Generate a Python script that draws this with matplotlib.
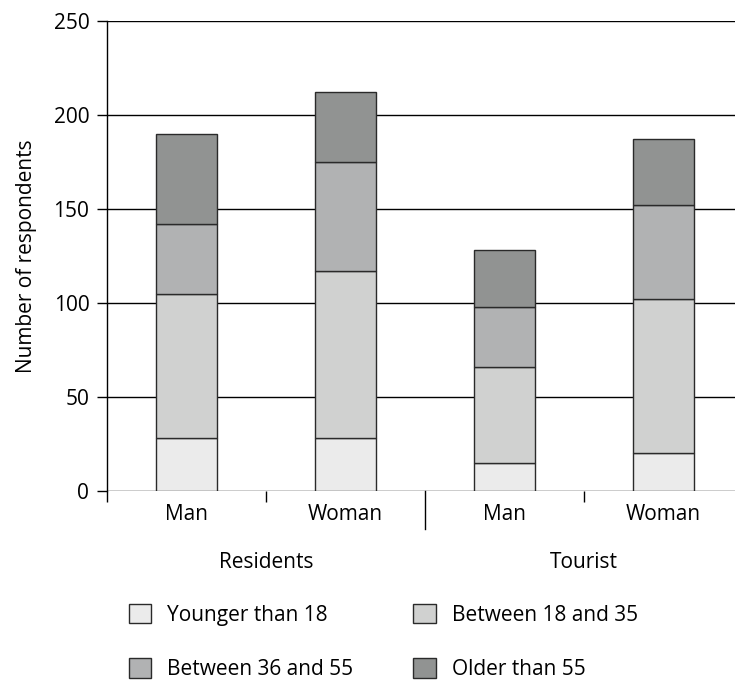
import matplotlib
matplotlib.use("Agg")
import matplotlib.pyplot as plt
from matplotlib.patches import Patch
import numpy as np

plt.rcParams['font.family'] = ['Open Sans', 'DejaVu Sans']

groups = ["Residents", "Tourist"]
categories = ["Man", "Woman", "Man", "Woman"]
series_names = ["Younger than 18", "Between 18 and 35", "Between 36 and 55", "Older than 55"]
younger_18 = [28, 28, 15, 20]
between_18_35 = [77, 89, 51, 82]
between_36_55 = [37, 58, 32, 50]
older_55 = [48, 37, 30, 35]
y_ticks = [0, 50, 100, 150, 200, 250]

series = [younger_18, between_18_35, between_36_55, older_55]
colors = ["#ebebeb", "#d0d1d0", "#b1b2b3", "#919392"]
edge = "#2a2a2a"
FS = 15

fig = plt.figure(figsize=(7.35, 6.81), dpi=100)
W, H = 735, 681
left, right, top, bottom = 107, 743, 21, 491
ax = fig.add_axes([left / W, 1 - bottom / H, (right - left) / W, (bottom - top) / H])

x = np.arange(len(categories))
base = np.zeros(len(categories))
for vals, col, name in zip(series, colors, series_names):
    ax.bar(x, vals, width=0.38, bottom=base, color=col, edgecolor=edge,
           linewidth=1.0, zorder=3, label=name)
    base += np.array(vals)

ax.set_xlim(-0.5, len(categories) - 0.5)
ax.set_ylim(0, 250)
ax.set_yticks(y_ticks)
ax.yaxis.grid(True, color="black", linewidth=1.0, zorder=0)
ax.set_axisbelow(True)
for s in ["top", "right", "bottom"]:
    ax.spines[s].set_visible(False)
ax.spines["left"].set_linewidth(1.0)
ax.tick_params(axis="y", length=7.2, width=1.0, labelsize=FS, pad=5.5)
ax.set_xticks(x)
ax.set_xticklabels(categories, fontsize=FS)
ax.tick_params(axis="x", which="major", length=0, pad=9)
ax.set_xticks([-0.5, 0.5, 2.5], minor=True)
ax.tick_params(axis="x", which="minor", length=8, width=1.0, direction="out")
# group divider
ax.axvline(1.5, ymin=-38 / (bottom - top), ymax=0, color="black", linewidth=1.0, clip_on=False)

ax.set_ylabel("Number of respondents", fontsize=FS, labelpad=12)

for gi, g in enumerate(groups):
    ax.text(gi * 2 + 0.5, -0.153, g, transform=ax.get_xaxis_transform(),
            ha="center", va="center", fontsize=FS)

handles = [Patch(facecolor=c, edgecolor=edge, linewidth=1.0) for c in colors]
order = [0, 2, 1, 3]
leg = fig.legend([handles[i] for i in order], [series_names[i] for i in order],
                 ncol=2, loc="upper left", bbox_to_anchor=(110 / W, 1 - 585 / H),
                 frameon=False, fontsize=FS, handlelength=1.06, handleheight=1.06,
                 handletextpad=0.77, labelspacing=1.57, columnspacing=2.9)

fig.savefig("out.png", dpi=100)
